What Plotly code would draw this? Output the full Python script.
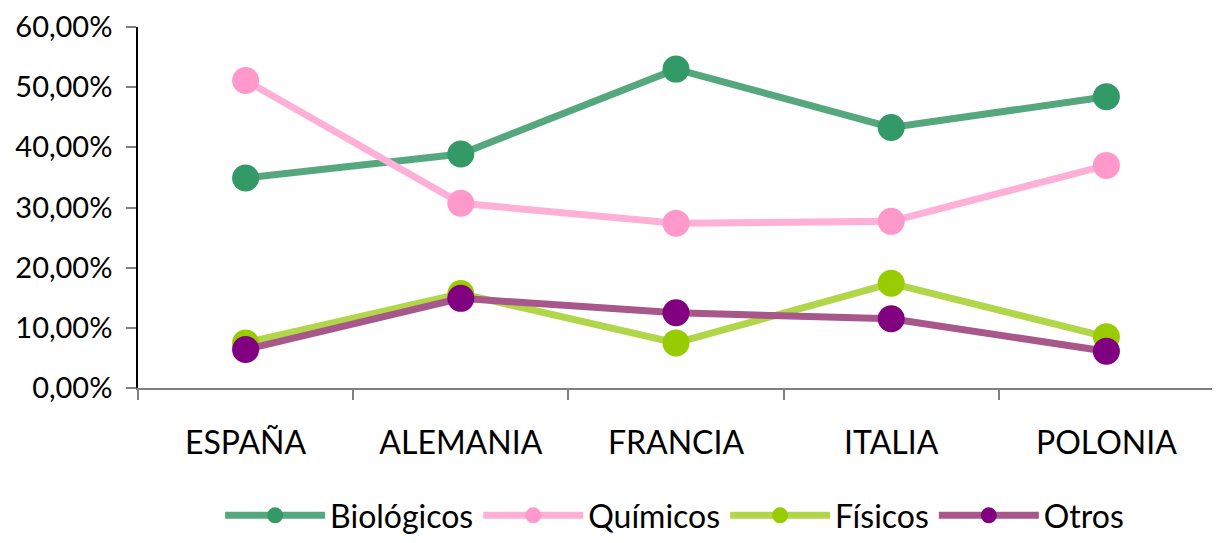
import plotly.graph_objects as go

categories = ["ESPAÑA", "ALEMANIA", "FRANCIA", "ITALIA", "POLONIA"]
biologicos = [0.349, 0.389, 0.530, 0.433, 0.484]
quimicos = [0.511, 0.307, 0.274, 0.277, 0.370]
fisicos = [0.075, 0.157, 0.075, 0.174, 0.085]
otros = [0.064, 0.149, 0.125, 0.115, 0.061]

series = [
    ("Biológicos", biologicos, "#55a77d", "#339966"),
    ("Químicos", quimicos, "#ffb0d6", "#ff99cc"),
    ("Físicos", fisicos, "#b2d64a", "#99cc00"),
    ("Otros", otros, "#a8578a", "#800080"),
]

FONT = "Lato, Carlito, Calibri, sans-serif"

fig = go.Figure()
for name, vals, lc, mc in series:
    fig.add_trace(go.Scatter(
        x=categories, y=vals, name=name, mode="lines+markers",
        line=dict(color=lc, width=7),
        marker=dict(color=mc, size=27, line=dict(width=0)),
    ))

fig.update_layout(
    width=1212, height=535,
    margin=dict(l=130, r=6, t=19, b=155),
    paper_bgcolor="white", plot_bgcolor="white",
    separators=",.",
    font=dict(family=FONT, size=30, color="black"),
    showlegend=True,
    legend=dict(orientation="h", x=0.55, xanchor="center", xref="container",
                y=-0.045, yanchor="bottom", yref="container",
                font=dict(size=32, family=FONT), itemwidth=100,
                traceorder="normal"),
    xaxis=dict(
        type="category", showline=True, linecolor="#808080", linewidth=2,
        ticks="outside", tickson="boundaries", ticklen=10, tickcolor="#808080",
        tickwidth=1.5, showgrid=False, tickfont=dict(size=32, family=FONT),
        ticklabelstandoff=26, range=[-0.5, 4.5], automargin=False,
    ),
    yaxis=dict(
        range=[0, 0.6], dtick=0.1, tickformat=".2%", showline=True,
        linecolor="black", linewidth=1.5, ticks="outside", ticklen=10,
        tickcolor="#808080", tickwidth=1.5, showgrid=False, zeroline=False,
        tickfont=dict(size=29, family=FONT), automargin=False,
        ticklabelstandoff=8, ticklabeloverflow="allow",
    ),
)

fig.write_html("out.html")
